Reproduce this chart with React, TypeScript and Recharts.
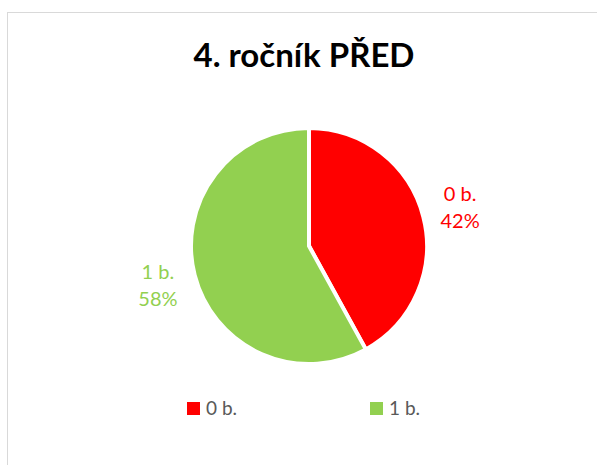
import { Cell, Legend, Pie, PieChart } from 'recharts'

const categories = ['0 b.', '1 b.']
const shares = [42, 58]
const colors = ['#FF0000', '#92D050']

const RAD = Math.PI / 180

const data = categories.map((name, i) => ({ name, value: shares[i], color: colors[i] }))

function renderLabel(props: any) {
  const { cx, cy, midAngle, outerRadius, percent, name, index } = props
  const r = outerRadius + 38
  const x = cx + r * Math.cos(-midAngle * RAD)
  const y = cy + r * Math.sin(-midAngle * RAD)
  return (
    <text
      x={x}
      y={y}
      textAnchor="middle"
      fill={colors[index]}
      fontFamily="Lato, 'Open Sans', sans-serif"
      fontSize={20}
    >
      <tspan x={x} dy={-6}>{name}</tspan>
      <tspan x={x} dy={27}>{`${Math.round(percent * 100)}%`}</tspan>
    </text>
  )
}

function renderLegend() {
  const positions = [187, 370]
  return (
    <div style={{ position: 'relative', height: 20 }}>
      {data.map((d, i) => (
        <div
          key={d.name}
          style={{ position: 'absolute', left: positions[i], top: 0, display: 'flex', alignItems: 'center' }}
        >
          <span style={{ width: 13, height: 13, background: d.color, display: 'inline-block', marginRight: 6 }} />
          <span style={{ color: '#595959', fontSize: 19, fontFamily: "Lato, 'Open Sans', sans-serif", lineHeight: '20px' }}>
            {d.name}
          </span>
        </div>
      ))}
    </div>
  )
}

export default function App() {
  return (
    <div style={{ position: 'fixed', inset: 0, overflow: 'hidden', background: '#fff' }}>
      {/* chart frame, runs past the right and bottom edges */}
      <div
        style={{
          position: 'absolute',
          left: 7,
          top: 12,
          width: 620,
          height: 480,
          border: '1px solid #D9D9D9',
          boxSizing: 'border-box',
        }}
      />
      <div
        style={{
          position: 'absolute',
          left: 0,
          top: 34,
          width: 608,
          textAlign: 'center',
          fontFamily: "Lato, 'Open Sans', sans-serif",
          fontWeight: 700,
          fontSize: 33,
          lineHeight: '40px',
          color: '#000',
        }}
      >
        4. ročník PŘED
      </div>
      <div style={{ position: 'absolute', left: 0, top: 0 }}>
        <PieChart width={597} height={465} margin={{ top: 0, right: 0, bottom: 0, left: 0 }}>
          <Pie
            data={data}
            dataKey="value"
            nameKey="name"
            cx={309}
            cy={226}
            innerRadius={0}
            outerRadius={118}
            startAngle={90}
            endAngle={-270}
            stroke="#ffffff"
            strokeWidth={4}
            label={renderLabel}
            labelLine={false}
            isAnimationActive={false}
          >
            {data.map((d) => (
              <Cell key={d.name} fill={d.color} />
            ))}
          </Pie>
          <Legend
            verticalAlign="top"
            align="left"
            content={renderLegend}
            wrapperStyle={{ top: 398, left: 0, width: 597 }}
          />
        </PieChart>
      </div>
    </div>
  )
}
